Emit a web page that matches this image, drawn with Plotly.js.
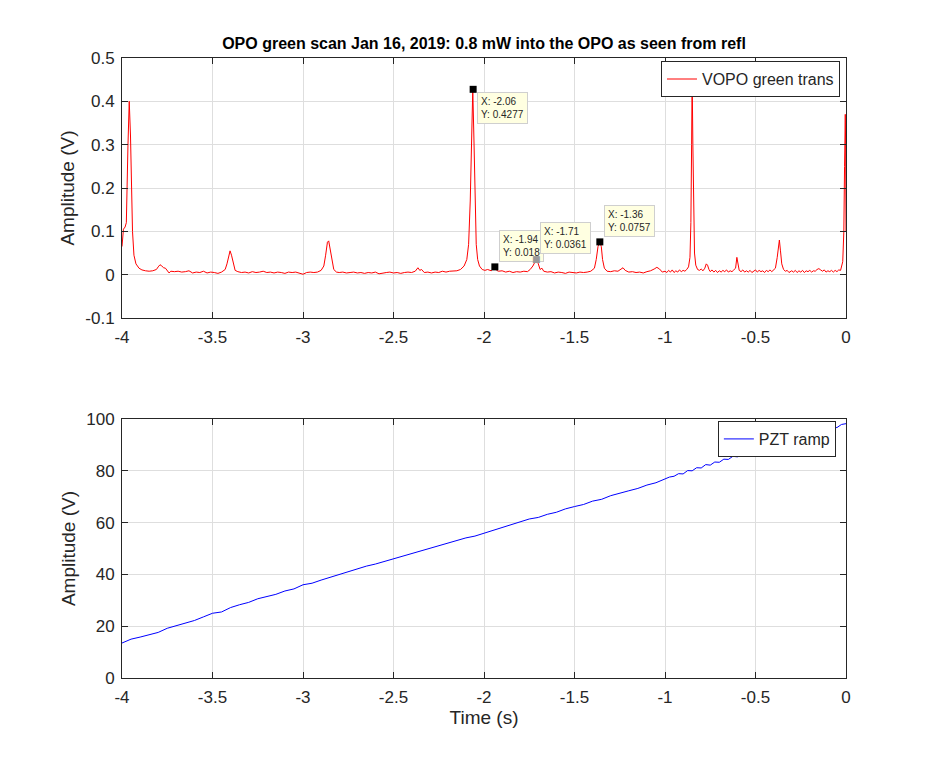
<!DOCTYPE html>
<html>
<head>
<meta charset="utf-8">
<script src="https://cdn.plot.ly/plotly-3.0.1.min.js"></script>
<style>
  body { margin: 0; background: #fff; }
  #chart { width: 935px; height: 762px; }
</style>
</head>
<body>
<div id="chart"></div>
<script>
// top panel: green transmission (V) vs time (s)
const transT = [
  -4.000, -3.992, -3.983, -3.976, -3.967, -3.960, -3.953, -3.948, -3.942, -3.934, -3.923, -3.906, -3.890,
  -3.870, -3.850, -3.830, -3.810, -3.800, -3.790, -3.780, -3.770, -3.760, -3.750, -3.740, -3.730, -3.710,
  -3.690, -3.670, -3.650, -3.630, -3.610, -3.590, -3.570, -3.550, -3.530, -3.510, -3.490, -3.470, -3.450,
  -3.430, -3.420, -3.410, -3.403, -3.395, -3.385, -3.375, -3.360, -3.340, -3.320, -3.300, -3.280, -3.260,
  -3.240, -3.220, -3.200, -3.180, -3.160, -3.140, -3.120, -3.100, -3.080, -3.060, -3.040, -3.020, -3.000,
  -2.980, -2.960, -2.940, -2.920, -2.900, -2.885, -2.875, -2.865, -2.858, -2.850, -2.840, -2.830, -2.815,
  -2.800, -2.780, -2.760, -2.740, -2.720, -2.700, -2.680, -2.660, -2.640, -2.620, -2.600, -2.580, -2.560,
  -2.540, -2.520, -2.500, -2.480, -2.460, -2.440, -2.420, -2.400, -2.380, -2.365, -2.355, -2.345, -2.330,
  -2.310, -2.290, -2.270, -2.250, -2.230, -2.210, -2.190, -2.170, -2.150, -2.130, -2.110, -2.095, -2.085,
  -2.076, -2.068, -2.062, -2.056, -2.050, -2.043, -2.035, -2.025, -2.010, -1.995, -1.980, -1.960, -1.940,
  -1.930, -1.920, -1.900, -1.880, -1.860, -1.840, -1.820, -1.800, -1.780, -1.760, -1.745, -1.730, -1.715,
  -1.710, -1.700, -1.690, -1.680, -1.670, -1.650, -1.630, -1.610, -1.590, -1.570, -1.550, -1.530, -1.510,
  -1.490, -1.470, -1.450, -1.430, -1.410, -1.390, -1.380, -1.370, -1.360, -1.352, -1.345, -1.335, -1.320,
  -1.300, -1.280, -1.260, -1.245, -1.232, -1.220, -1.200, -1.180, -1.160, -1.140, -1.120, -1.100, -1.080,
  -1.060, -1.045, -1.030, -1.015, -1.000, -0.990, -0.980, -0.970, -0.960, -0.950, -0.940, -0.930, -0.920,
  -0.910, -0.900, -0.890, -0.880, -0.870, -0.862, -0.857, -0.853, -0.850, -0.846, -0.842, -0.837, -0.830,
  -0.820, -0.810, -0.800, -0.790, -0.780, -0.772, -0.765, -0.757, -0.750, -0.740, -0.730, -0.720, -0.710,
  -0.700, -0.690, -0.680, -0.670, -0.660, -0.650, -0.640, -0.630, -0.620, -0.610, -0.603, -0.597, -0.590,
  -0.580, -0.570, -0.560, -0.550, -0.540, -0.530, -0.520, -0.510, -0.500, -0.490, -0.480, -0.470, -0.460,
  -0.450, -0.440, -0.430, -0.420, -0.410, -0.400, -0.390, -0.380, -0.373, -0.368, -0.362, -0.355, -0.345,
  -0.335, -0.325, -0.315, -0.300, -0.290, -0.280, -0.270, -0.260, -0.250, -0.240, -0.230, -0.220, -0.210,
  -0.200, -0.190, -0.180, -0.170, -0.160, -0.150, -0.140, -0.130, -0.120, -0.110, -0.100, -0.090, -0.080,
  -0.070, -0.060, -0.050, -0.040, -0.030, -0.018, -0.012, -0.008, -0.004, -0.002, 0.000
];
const transV = [
  0.065, 0.105, 0.110, 0.120, 0.300, 0.400, 0.320, 0.200, 0.100, 0.045, 0.025, 0.015, 0.011,
  0.009, 0.008, 0.009, 0.012, 0.018, 0.023, 0.020, 0.016, 0.015, 0.010, 0.004, 0.008, 0.007,
  0.008, 0.006, 0.007, 0.009, 0.004, 0.006, 0.005, 0.008, 0.004, 0.006, 0.005, 0.003, 0.006,
  0.012, 0.025, 0.045, 0.055, 0.045, 0.025, 0.010, 0.007, 0.005, 0.006, 0.004, 0.007, 0.005,
  0.006, 0.008, 0.005, 0.006, 0.004, 0.006, 0.005, 0.003, 0.006, 0.005, 0.006, 0.003, 0.001,
  0.005, 0.006, 0.005, 0.006, 0.010, 0.020, 0.045, 0.075, 0.078, 0.060, 0.030, 0.012, 0.006,
  0.005, 0.006, 0.004, 0.005, 0.006, 0.004, 0.005, 0.003, 0.005, 0.004, 0.006, 0.002, 0.004,
  0.005, 0.006, 0.004, 0.005, 0.003, 0.005, 0.006, 0.005, 0.008, 0.016, 0.010, 0.012, 0.005,
  0.006, 0.004, 0.006, 0.005, 0.008, 0.006, 0.008, 0.009, 0.009, 0.012, 0.020, 0.035, 0.070,
  0.170, 0.330, 0.4277, 0.320, 0.160, 0.070, 0.035, 0.020, 0.012, 0.010, 0.012, 0.009, 0.018,
  0.010, 0.008, 0.009, 0.006, 0.008, 0.005, 0.007, 0.006, 0.008, 0.007, 0.012, 0.020, 0.035,
  0.0361, 0.025, 0.012, 0.015, 0.008, 0.006, 0.007, 0.004, 0.006, 0.005, 0.003, 0.006, 0.005,
  0.004, 0.006, 0.005, 0.006, 0.008, 0.015, 0.035, 0.065, 0.0757, 0.065, 0.035, 0.015, 0.008,
  0.007, 0.009, 0.008, 0.012, 0.016, 0.010, 0.006, 0.007, 0.005, 0.006, 0.004, 0.007, 0.009,
  0.013, 0.017, 0.013, 0.006, 0.008, 0.005, 0.010, 0.006, 0.011, 0.005, 0.009, 0.006, 0.011,
  0.007, 0.010, 0.008, 0.012, 0.018, 0.040, 0.120, 0.300, 0.460, 0.300, 0.120, 0.050, 0.022,
  0.012, 0.010, 0.013, 0.009, 0.015, 0.025, 0.022, 0.012, 0.007, 0.011, 0.006, 0.010, 0.005,
  0.009, 0.006, 0.010, 0.007, 0.011, 0.006, 0.009, 0.007, 0.011, 0.015, 0.040, 0.025, 0.010,
  0.007, 0.011, 0.006, 0.009, 0.006, 0.010, 0.005, 0.009, 0.011, 0.006, 0.010, 0.007, 0.009,
  0.005, 0.010, 0.007, 0.011, 0.007, 0.010, 0.015, 0.040, 0.075, 0.080, 0.055, 0.025, 0.012,
  0.008, 0.010, 0.005, 0.009, 0.006, 0.010, 0.005, 0.009, 0.006, 0.010, 0.005, 0.009, 0.007,
  0.010, 0.006, 0.009, 0.008, 0.012, 0.014, 0.011, 0.008, 0.011, 0.006, 0.009, 0.007, 0.010,
  0.006, 0.010, 0.007, 0.011, 0.010, 0.030, 0.100, 0.250, 0.370, 0.300, 0.100
];

// data tips placed on the top trace (the third one is the selected, grey one)
const tipT = [-2.06, -1.94, -1.71, -1.36];
const tipV = [0.4277, 0.018, 0.0361, 0.0757];
const tipLabels = ["X: -2.06<br>Y: 0.4277", "X: -1.94<br>Y: 0.018", "X: -1.71<br>Y: 0.0361", "X: -1.36<br>Y: 0.0757"];

// bottom panel: PZT ramp (V) vs time (s)
const rampT = [
  -4.000, -3.950, -3.900, -3.850, -3.800, -3.750, -3.700, -3.650, -3.600, -3.550, -3.500, -3.450, -3.400,
  -3.350, -3.300, -3.250, -3.200, -3.150, -3.100, -3.050, -3.000, -2.950, -2.900, -2.850, -2.800, -2.750,
  -2.700, -2.650, -2.600, -2.550, -2.500, -2.450, -2.400, -2.350, -2.300, -2.250, -2.200, -2.150, -2.100,
  -2.050, -2.000, -1.950, -1.900, -1.850, -1.800, -1.750, -1.700, -1.650, -1.600, -1.550, -1.500, -1.450,
  -1.400, -1.350, -1.300, -1.250, -1.200, -1.150, -1.100, -1.050, -1.000, -0.975, -0.950, -0.925, -0.900,
  -0.875, -0.850, -0.825, -0.800, -0.775, -0.750, -0.725, -0.700, -0.675, -0.650, -0.625, -0.600, -0.575,
  -0.550, -0.525, -0.500, -0.475, -0.450, -0.425, -0.400, -0.375, -0.350, -0.325, -0.300, -0.275, -0.250,
  -0.225, -0.200, -0.175, -0.150, -0.125, -0.100, -0.075, -0.050, -0.025, 0.000
];
const rampV = [
  13.5, 15.0, 15.8, 16.8, 17.6, 19.2, 20.2, 21.4, 22.2, 23.6, 25.0, 25.5, 27.2,
  28.3, 29.2, 30.6, 31.5, 32.3, 33.6, 34.4, 36.0, 36.6, 37.8, 38.9, 40.0, 41.2,
  42.0, 43.2, 44.0, 45.0, 46.2, 47.0, 48.2, 49.0, 50.1, 51.0, 52.2, 53.0, 54.1,
  54.8, 55.9, 57.0, 58.0, 59.2, 60.0, 61.4, 62.0, 63.2, 64.0, 65.3, 66.2, 67.0,
  68.3, 69.0, 70.4, 71.2, 72.3, 73.2, 74.5, 75.4, 76.8, 77.6, 77.9, 78.9, 78.8,
  80.1, 80.0, 81.2, 81.1, 82.4, 82.2, 83.4, 83.3, 84.5, 84.4, 85.6, 85.4, 86.5,
  86.4, 87.6, 87.4, 88.3, 88.3, 89.2, 89.4, 90.4, 90.3, 91.5, 91.4, 92.6, 92.5,
  93.7, 93.6, 94.7, 94.7, 95.8, 95.6, 96.8, 96.7, 97.9, 98.2
];

const xTicks = [-4, -3.5, -3, -2.5, -2, -1.5, -1, -0.5, 0];
const xTickLabels = ["-4", "-3.5", "-3", "-2.5", "-2", "-1.5", "-1", "-0.5", "0"];
const yTicksTop = [-0.1, 0, 0.1, 0.2, 0.3, 0.4, 0.5];
const yTickLabelsTop = ["-0.1", "0", "0.1", "0.2", "0.3", "0.4", "0.5"];
const yTicksBottom = [0, 20, 40, 60, 80, 100];

const FONT = "Liberation Sans, Arial, Helvetica, sans-serif";
const INK = "#262626";

function axisStyle(extra) {
  return Object.assign({
    showline: true, linecolor: INK, linewidth: 1, mirror: "ticks",
    ticks: "inside", ticklen: 6, tickcolor: INK, tickwidth: 1,
    showgrid: true, gridcolor: "#dedede", gridwidth: 1,
    zeroline: false, tickfont: { family: FONT, size: 17, color: INK },
    tickmode: "array"
  }, extra);
}

const traces = [
  {
    x: transT, y: transV, type: "scatter", mode: "lines",
    line: { color: "#ff0000", width: 1 },
    name: "VOPO green trans", xaxis: "x", yaxis: "y", legend: "legend"
  },
  {
    x: tipT, y: tipV, type: "scatter", mode: "markers",
    marker: { symbol: "square", size: 7, color: ["#000", "#000", "#999", "#000"] },
    showlegend: false, hoverinfo: "skip", xaxis: "x", yaxis: "y"
  },
  {
    x: rampT, y: rampV, type: "scatter", mode: "lines",
    line: { color: "#0000ff", width: 1 },
    name: "PZT ramp", xaxis: "x2", yaxis: "y2", legend: "legend2"
  }
];

const tipAnnotations = tipLabels.map((txt, i) => ({
  x: tipT[i], y: tipV[i], xref: "x", yref: "y",
  text: txt, showarrow: false, align: "left",
  xanchor: "left", yanchor: i === 0 ? "top" : "bottom",
  xshift: 4, yshift: i === 0 ? -3 : 5,
  font: { family: FONT, size: 10, color: INK },
  bgcolor: "#ffffe1", bordercolor: "#cfcfcf", borderwidth: 1, borderpad: 3
}));

// the selected (grey) tip marker sits on top of the neighbouring box
tipAnnotations.push({
  x: tipT[2], y: tipV[2], xref: "x", yref: "y",
  text: "■", showarrow: false, xanchor: "center", yanchor: "middle",
  font: { family: "DejaVu Sans", size: 9, color: "#999999" }
});

const legendStyle = {
  bgcolor: "#ffffff", bordercolor: INK, borderwidth: 1,
  font: { family: FONT, size: 16, color: INK },
  xanchor: "right", yanchor: "top", xref: "paper", yref: "paper",
  itemwidth: 30, tracegroupgap: 0
};

const axisTitleFont = { family: FONT, size: 19, color: INK };

const layout = {
  width: 935, height: 762,
  paper_bgcolor: "#ffffff", plot_bgcolor: "#ffffff",
  margin: { l: 122, r: 89, t: 58, b: 84 },
  showlegend: true,
  title: {
    text: "<b>OPO green scan Jan 16, 2019: 0.8 mW into the OPO as seen from refl</b>",
    font: { family: FONT, size: 16, color: "#000" },
    x: 0.5, xref: "paper", y: 1, yref: "paper", yanchor: "bottom", pad: { b: 9 }
  },
  xaxis: axisStyle({
    domain: [0, 1], anchor: "y", range: [-4, 0],
    tickvals: xTicks, ticktext: xTickLabels, ticklabelstandoff: 4
  }),
  yaxis: axisStyle({
    domain: [0.5806, 1], anchor: "x", range: [-0.1, 0.5],
    tickvals: yTicksTop, ticktext: yTickLabelsTop, ticklabelstandoff: 3,
    title: { text: "Amplitude (V)", font: axisTitleFont, standoff: 5 }
  }),
  xaxis2: axisStyle({
    domain: [0, 1], anchor: "y2", range: [-4, 0],
    tickvals: xTicks, ticktext: xTickLabels, ticklabelstandoff: 4,
    title: { text: "Time (s)", font: axisTitleFont, standoff: 4 }
  }),
  yaxis2: axisStyle({
    domain: [0, 0.4177], anchor: "x2", range: [0, 100],
    tickvals: yTicksBottom, ticklabelstandoff: 3,
    title: { text: "Amplitude (V)", font: axisTitleFont, standoff: 5 }
  }),
  legend: Object.assign({ x: 0.9917, y: 0.995 }, legendStyle),
  legend2: Object.assign({ x: 0.986, y: 0.4145 }, legendStyle),
  annotations: tipAnnotations
};

Plotly.newPlot("chart", traces, layout, { displayModeBar: false, staticPlot: true });
</script>
</body>
</html>
